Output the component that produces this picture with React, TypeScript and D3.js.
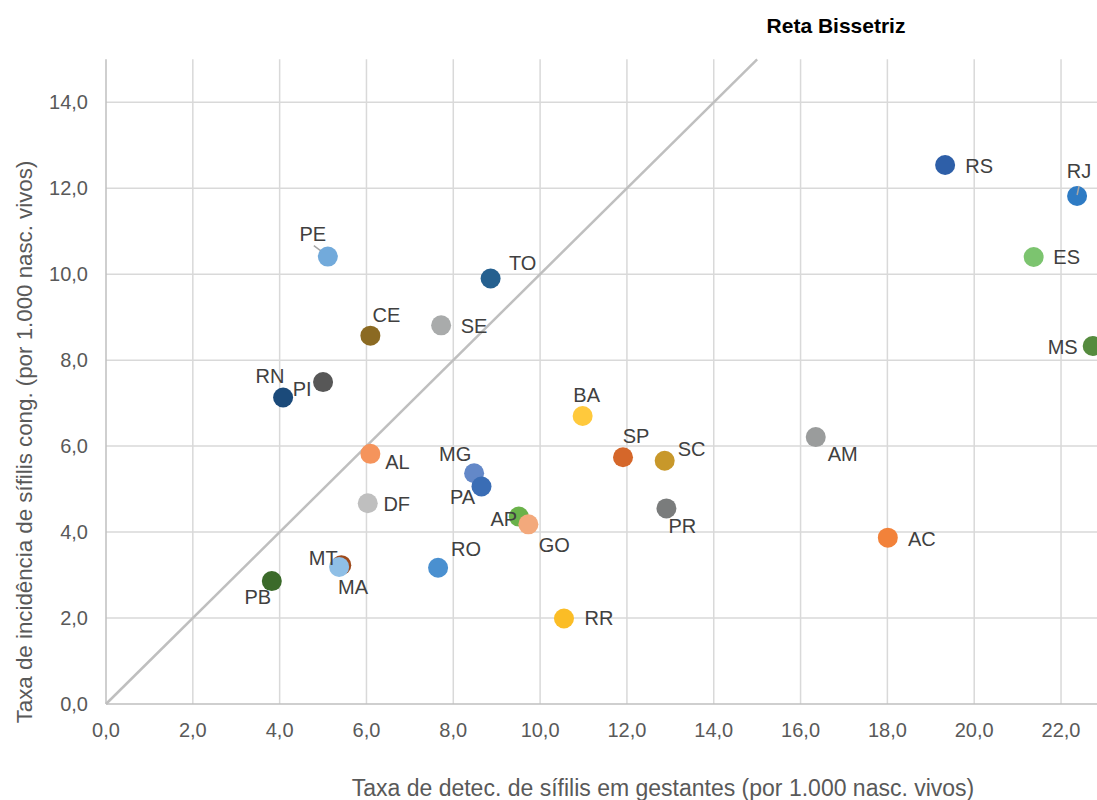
import React from "react";
import * as d3 from "d3";

const states = ["RS","RJ","ES","MS","PE","TO","CE","SE","RN","PI","BA","AM","SP","SC","AL","MG","PA","DF","PR","AP","GO","AC","MT","MA","RO","PB","RR"];
const detecGestantes = [19.33,22.37,21.37,22.73,5.11,8.86,6.09,7.72,5.0,4.08,10.98,16.35,11.91,12.87,6.09,8.48,8.65,6.03,12.91,9.51,9.73,18.01,5.42,5.37,7.65,3.82,10.55];
const incidCongenita = [12.54,11.82,10.40,8.33,10.41,9.90,8.57,8.81,7.49,7.13,6.70,6.21,5.74,5.66,5.82,5.37,5.06,4.67,4.55,4.36,4.18,3.87,3.23,3.19,3.17,2.86,1.99];
const pointColors = ["#2e5fa8","#2e7bc4","#7cc46f","#558b3e","#72aadb","#25608f","#8b6a22","#a9abab","#575757","#1b4a7a","#ffc93c","#9a9c9c","#d5672a","#c8982a","#f5945c","#6388c8","#3a6db5","#bfbfbf","#7a7c7c","#6ab24a","#f3a97c","#f2823a","#9e4a1c","#8fbfe6","#4a90d0","#3b6a2a","#fbbd26"];
// label offsets (px) from point centre
const labelDx = [34,2,33,-30,-15,32,16,33,-53,19,4,27,13,27,27,-19,-19,29,16,-15,26,34,-18,14,28,-14,35];
const labelDy = [1,-25,0,1,-23,-15,-21,1,-6,-9,-21,17,-21,-12,8,-19,10,1,18,2,21,1,-7,20,-19,16,0];
const leaderLines: Record<string, [number, number, number, number]> = {
  PE: [-14, -11, -2, -2],
  RJ: [2, -10, 0, -1],
};

const xTicks = [0,2,4,6,8,10,12,14,16,18,20,22];
const xGrid = [2,4,6,8,10,12,14,16,18,20,22,24];
const yTicks = [0,2,4,6,8,10,12,14];
const bisector = [0, 15];

const chartTitle = "Reta Bissetriz";
const xTitle = "Taxa de detec. de sífilis em gestantes (por 1.000 nasc. vivos)";
const yTitle = "Taxa de incidência de sífilis cong. (por 1.000 nasc. vivos)";

const W = 1097, H = 800;
const x0 = 106, y0 = 704;
const x = d3.scaleLinear().domain([0, 24]).range([x0, x0 + 24 * 43.41]);
const y = d3.scaleLinear().domain([0, 15]).range([y0, y0 - 15 * 42.98]);
const fmt = (v: number) => v.toFixed(1).replace(".", ",");
const font = "'Liberation Sans', Arial, sans-serif";

export default function App() {
  const top = y(15);
  const line = d3.line<number>().x(d => x(d)).y(d => y(d));
  return (
    <svg width={W} height={H} style={{ position: "absolute", left: 0, top: 0, background: "#fff", overflow: "hidden" }} fontFamily={font}>
      <rect width={W} height={H} fill="#fff" />
      {xGrid.map(t => (
        <line key={"gx" + t} x1={x(t)} x2={x(t)} y1={top} y2={y0} stroke="#d9d9d9" strokeWidth={1.5} />
      ))}
      {yTicks.filter(t => t > 0).map(t => (
        <line key={"gy" + t} x1={x0} x2={W + 60} y1={y(t)} y2={y(t)} stroke="#d9d9d9" strokeWidth={1.5} />
      ))}
      <line x1={x0} x2={x0} y1={top} y2={y0} stroke="#bfbfbf" strokeWidth={1.5} />
      <line x1={x0} x2={W + 60} y1={y0} y2={y0} stroke="#bfbfbf" strokeWidth={1.5} />
      <path d={line(bisector) || ""} stroke="#bfbfbf" strokeWidth={2.5} fill="none" />
      {xTicks.map(t => (
        <text key={"tx" + t} x={x(t)} y={737} textAnchor="middle" fontSize={20} fill="#595959">{fmt(t)}</text>
      ))}
      {yTicks.map(t => (
        <text key={"ty" + t} x={88} y={y(t)} dy="0.35em" textAnchor="end" fontSize={20} fill="#595959">{fmt(t)}</text>
      ))}
      {states.map((s, i) => {
        const cx = x(detecGestantes[i]), cy = y(incidCongenita[i]);
        const ll = leaderLines[s];
        return (
          <g key={s}>
            {ll && s !== "RJ" && <line x1={cx + ll[0]} y1={cy + ll[1]} x2={cx + ll[2]} y2={cy + ll[3]} stroke="#a6a6a6" strokeWidth={1.5} />}
            <circle cx={cx} cy={cy} r={10} fill={pointColors[i]} />
            {ll && s === "RJ" && <line x1={cx + ll[0]} y1={cy + ll[1]} x2={cx + ll[2]} y2={cy + ll[3]} stroke="#a6a6a6" strokeWidth={1.5} />}
          </g>
        );
      })}
      {states.map((s, i) => (
        <text key={"l" + s} x={x(detecGestantes[i]) + labelDx[i]} y={y(incidCongenita[i]) + labelDy[i]} dy="0.35em" textAnchor="middle" fontSize={20} fill="#404040">{s}</text>
      ))}
      <text x={836} y={33} textAnchor="middle" fontSize={21} fontWeight="bold" fill="#000">{chartTitle}</text>
      <text x={663} y={796} textAnchor="middle" fontSize={23} fill="#595959">{xTitle}</text>
      <text transform={`translate(32,442) rotate(-90)`} textAnchor="middle" fontSize={22.3} fill="#595959">{yTitle}</text>
    </svg>
  );
}
